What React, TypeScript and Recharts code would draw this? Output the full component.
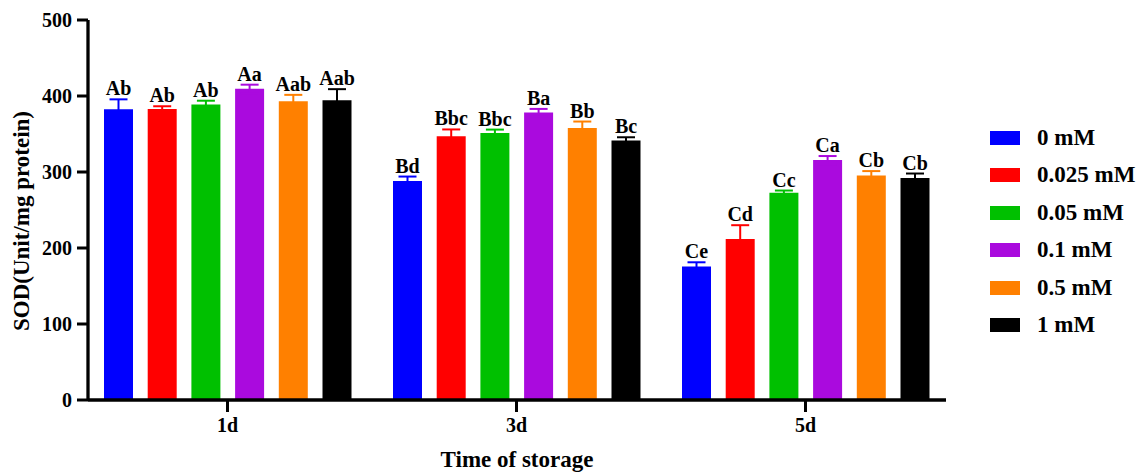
import React from 'react';
import { BarChart, Bar, XAxis, YAxis, ErrorBar, LabelList } from 'recharts';

const categories = ['1d', '3d', '5d'];
const seriesNames = ['0 mM', '0.025 mM', '0.05 mM', '0.1 mM', '0.5 mM', '1 mM'];
const colors = ['#0000ff', '#ff0000', '#00c000', '#aa0ade', '#ff8000', '#000000'];

const mean0 = [382.6, 288, 175.5];
const mean025 = [383, 347, 212];
const mean05 = [388.8, 351.3, 272.6];
const mean1 = [409.4, 378.2, 315.7];
const mean5 = [393, 358, 295.5];
const mean10 = [394.5, 341.3, 292];

const sd0 = [13, 6, 5.7];
const sd025 = [3.5, 9, 18];
const sd05 = [5, 4.5, 3];
const sd1 = [5.5, 4.8, 5.3];
const sd5 = [8.5, 8.4, 5.7];
const sd10 = [14.5, 4.4, 6];

const let0 = ['Ab', 'Bd', 'Ce'];
const let025 = ['Ab', 'Bbc', 'Cd'];
const let05 = ['Ab', 'Bbc', 'Cc'];
const let1 = ['Aa', 'Ba', 'Ca'];
const let5 = ['Aab', 'Bb', 'Cb'];
const let10 = ['Aab', 'Bc', 'Cb'];

const yTicks = [0, 100, 200, 300, 400, 500];

const means = [mean0, mean025, mean05, mean1, mean5, mean10];
const sds = [sd0, sd025, sd05, sd1, sd5, sd10];
const letters = [let0, let025, let05, let1, let5, let10];

const data = categories.map((c, i) => {
  const row: any = { cat: c };
  seriesNames.forEach((_, s) => {
    row['m' + s] = means[s][i];
    row['e' + s] = sds[s][i];
    row['l' + s] = letters[s][i];
  });
  return row;
});

const FONT = '"Liberation Serif", "Times New Roman", serif';

const makeLabel = (s: number) => (props: any) => {
  const { x, y, width, height, index } = props;
  const m = means[s][index];
  const e = sds[s][index];
  const pxPerUnit = height / m;
  const top = y - e * pxPerUnit;
  return (
    <text
      x={x + width / 2}
      y={top - 4}
      textAnchor="middle"
      fontFamily={FONT}
      fontWeight="bold"
      fontSize={20}
      fill="#000"
    >
      {letters[s][index]}
    </text>
  );
};

export default function App() {
  return (
    <div style={{ position: 'absolute', left: 0, top: 0, width: 1141, height: 472, background: '#fff' }}>
      <BarChart
        width={1141}
        height={472}
        data={data}
        margin={{ top: 20, right: 195, bottom: 0, left: 0 }}
        barSize={29}
        barGap={14.7}
      >
        <XAxis
          dataKey="cat"
          padding={{ left: -5, right: -4 }}
          height={72}
          axisLine={{ stroke: '#000', strokeWidth: 3.5 }}
          tickLine={{ stroke: '#000', strokeWidth: 3 }}
          tickSize={12}
          tickMargin={6}
          tick={{ fill: '#000', fontFamily: FONT, fontWeight: 'bold', fontSize: 20 }}
          label={{
            content: () => (
              <text x={517} y={467} textAnchor="middle" fontFamily={FONT} fontWeight="bold" fontSize={23} fill="#000">
                Time of storage
              </text>
            ),
          }}
        />
        <YAxis
          width={88}
          domain={[0, 500]}
          ticks={yTicks}
          interval={0}
          axisLine={{ stroke: '#000', strokeWidth: 3.3 }}
          tickLine={{ stroke: '#000', strokeWidth: 3 }}
          tickSize={11}
          tickMargin={5}
          tick={{ fill: '#000', fontFamily: FONT, fontWeight: 'bold', fontSize: 20 }}
          label={{
            content: () => (
              <text
                x={21}
                y={221}
                transform="rotate(-90 21 221)"
                textAnchor="middle"
                dominantBaseline="central"
                fontFamily={FONT}
                fontWeight="bold"
                fontSize={23}
                fill="#000"
              >
                SOD(Unit/mg protein)
              </text>
            ),
          }}
        />
        {seriesNames.map((n, s) => (
          <Bar key={n} dataKey={'m' + s} name={n} fill={colors[s]} isAnimationActive={false}>
            <ErrorBar dataKey={'e' + s} width={9} stroke={colors[s]} strokeWidth={2} direction="y" />
            <LabelList dataKey={'l' + s} content={makeLabel(s)} />
          </Bar>
        ))}
      </BarChart>
      <div
        style={{
          position: 'absolute',
          left: 990,
          top: 119,
          width: 151,
          fontFamily: FONT,
          fontWeight: 'bold',
          fontSize: 23,
          color: '#000',
        }}
      >
        {seriesNames.map((n, i) => (
          <div key={n} style={{ display: 'flex', alignItems: 'center', height: 37.5 }}>
            <div style={{ width: 30, height: 14, background: colors[i], marginRight: 17, flexShrink: 0 }} />
            <span style={{ whiteSpace: 'nowrap' }}>{n}</span>
          </div>
        ))}
      </div>
    </div>
  );
}
